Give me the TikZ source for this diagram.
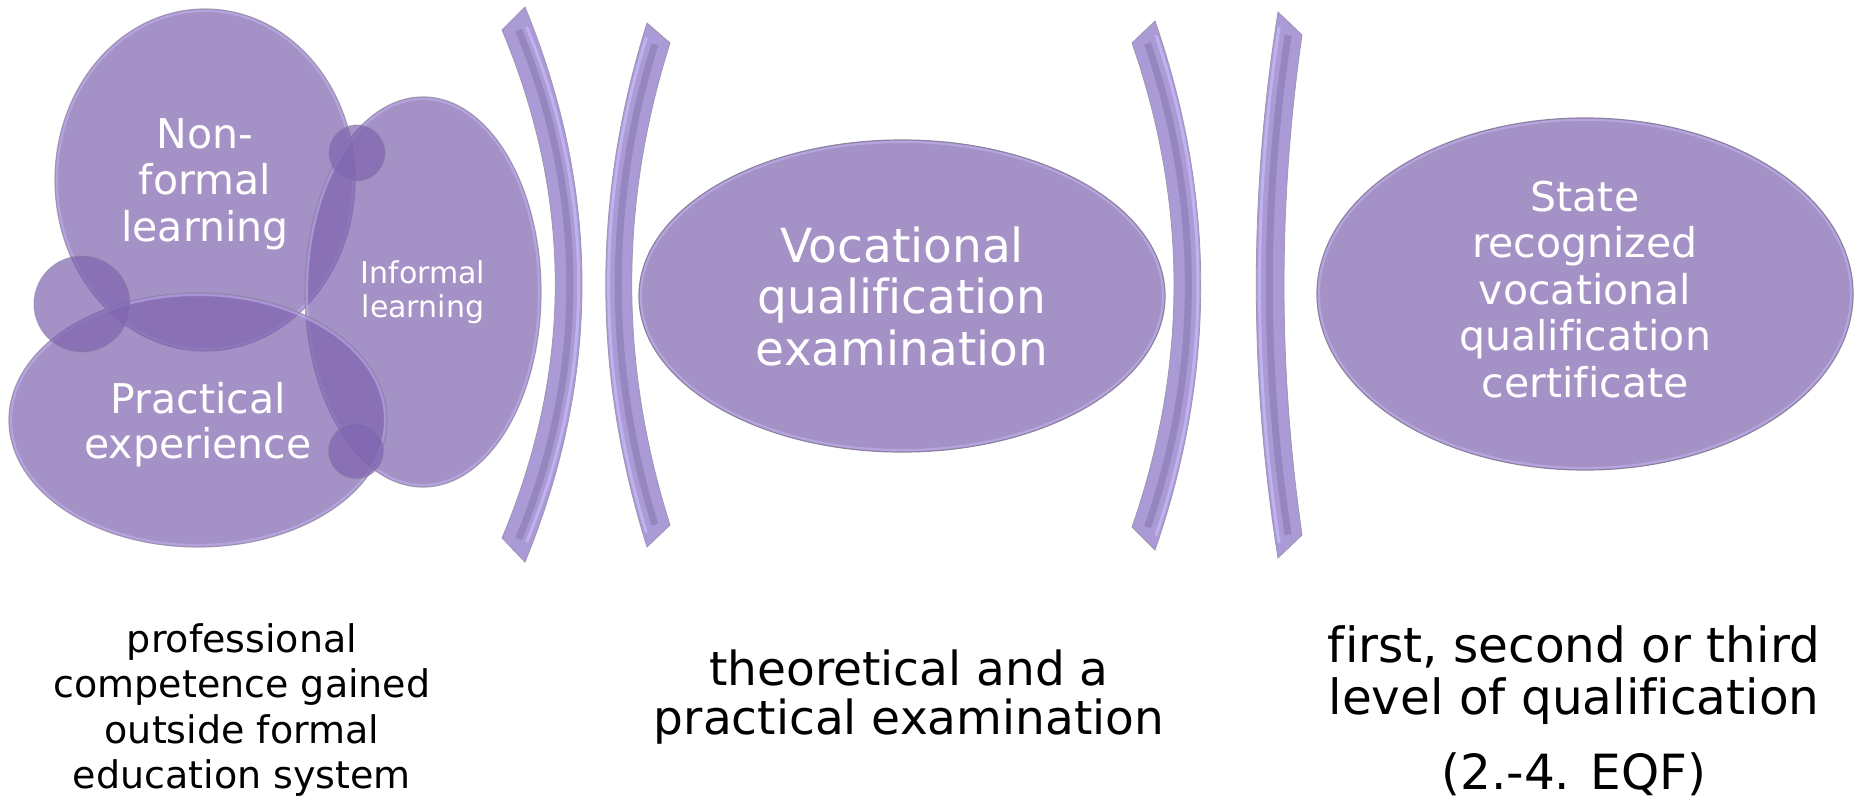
\documentclass[tikz,border=0pt]{standalone}
\usepackage{fontspec}
\setmainfont{DejaVu Sans}[Ligatures=NoCommon]
\usetikzlibrary{shapes.geometric}
\definecolor{blobc}{RGB}{127,100,175}
\definecolor{solidc}{RGB}{164,145,198}
\definecolor{edgec}{RGB}{140,130,160}
\definecolor{rimc}{RGB}{196,180,240}
\definecolor{brk}{RGB}{170,154,214}
\definecolor{brkdark}{RGB}{150,134,192}
\definecolor{brklight}{RGB}{192,178,238}
\definecolor{brkedge}{RGB}{158,150,178}
\newcommand{\fsz}[2]{\fontsize{#1}{#2}\selectfont}
\begin{document}
\begin{tikzpicture}[x=1pt,y=-1pt,
  rim/.style 2 args={path picture={\draw[draw=rimc, line width=6pt, opacity=0.55]
    (path picture bounding box.center) ellipse [x radius=#1, y radius=#2];}},
  blob/.style={ellipse, inner sep=0pt, fill=blobc, fill opacity=0.71, text opacity=1,
    draw=edgec, draw opacity=0.7, line width=1.2pt, text=white, align=center},
  solidblob/.style={ellipse, inner sep=0pt, fill=solidc, draw=edgec, line width=1.2pt,
    text=white, align=center},
  dot/.style={circle, inner sep=0pt, fill=blobc, fill opacity=0.71, draw=edgec,
    draw opacity=0.5, line width=1pt},
  caption/.style={text=black, align=center},
  bracket/.style={fill=brk, draw=brkedge, line width=0.8pt},
  darkstripe/.style={draw=brkdark, line width=7pt, shorten >=12pt, shorten <=12pt},
  lightstripe/.style={draw=brklight, line width=3pt, shorten >=12pt, shorten <=12pt}
]
\useasboundingbox (0,0) rectangle (1854,801);

% left group
\node[blob, rim={150pt}{171pt}, minimum width=300pt, minimum height=342pt, font=\fsz{41}{46.5}, text depth=-6pt] (nonformal) at (205,180) {Non-\\formal\\learning};
\node[blob, rim={118pt}{195pt}, minimum width=236pt, minimum height=390pt, font=\fsz{30}{34}] (informal) at (423,292) {Informal\\learning};
\node[blob, rim={189pt}{127pt}, minimum width=378pt, minimum height=254pt, font=\fsz{41}{45}, text depth=-6pt] (practical) at (198,420) {Practical\\experience};
\node[dot, minimum size=56pt] (dtop) at (357,153) {};
\node[dot, minimum size=96pt] (dleft) at (82,304) {};
\node[dot, minimum size=55pt] (dbot) at (356,451) {};

% brackets
\path[bracket] (525,7) .. controls (601,192) and (601,377) .. (525,562) -- (502,538) .. controls (573,369) and (573,199) .. (502,30) -- cycle;
\path[darkstripe] (514,19) .. controls (587,196) and (587,373) .. (514,550);
\path[lightstripe] (522,16) .. controls (596,194) and (596,375) .. (522,553);

\path[bracket] (647,23) .. controls (592,198) and (592,372) .. (647,547) -- (670,525) .. controls (619,364) and (619,204) .. (670,43) -- cycle;
\path[darkstripe] (658.5,33) .. controls (606,201) and (606,368) .. (658.5,536);
\path[lightstripe] (650,26) .. controls (596,199) and (596,370) .. (650,544);

\path[bracket] (1155,21) .. controls (1216,197) and (1216,374) .. (1155,550) -- (1132,527) .. controls (1188,366) and (1188,204) .. (1132,43) -- cycle;
\path[darkstripe] (1143.5,32) .. controls (1202,201) and (1202,370) .. (1143.5,538.5);
\path[lightstripe] (1152,24) .. controls (1212,198) and (1212,372) .. (1152,547);

\path[bracket] (1278,12) .. controls (1249,194) and (1249,376) .. (1278,558) -- (1302,535) .. controls (1278,368) and (1278,202) .. (1302,35) -- cycle;
\path[darkstripe] (1290,23.5) .. controls (1263,198) and (1263,372) .. (1290,546.5);
\path[lightstripe] (1281,15) .. controls (1253,195) and (1253,375) .. (1281,555);

% middle and right
\node[solidblob, rim={263pt}{156pt}, minimum width=526pt, minimum height=312pt, font=\fsz{47}{51.5}] (exam) at (902,296) {Vocational\\qualification\\examination};
\node[solidblob, rim={268pt}{176pt}, minimum width=536pt, minimum height=352pt, font=\fsz{41}{46.5}, text depth=10pt] (cert) at (1585,294) {State\\recognized\\vocational\\qualification\\certificate};

% captions
\node[caption, font=\fsz{38}{45.5}] (cap1) at (242,710) {professional\\competence gained\\outside formal\\education system};
\node[caption, font=\fsz{47}{48.5}] (cap2) at (909,697) {theoretical and a\\practical examination};
\node[caption, font=\fsz{48.5}{52}] (cap3) at (1574,711) {first, second or third\\level of qualification\\[23pt](2.-4. EQF)};
\end{tikzpicture}
\end{document}
